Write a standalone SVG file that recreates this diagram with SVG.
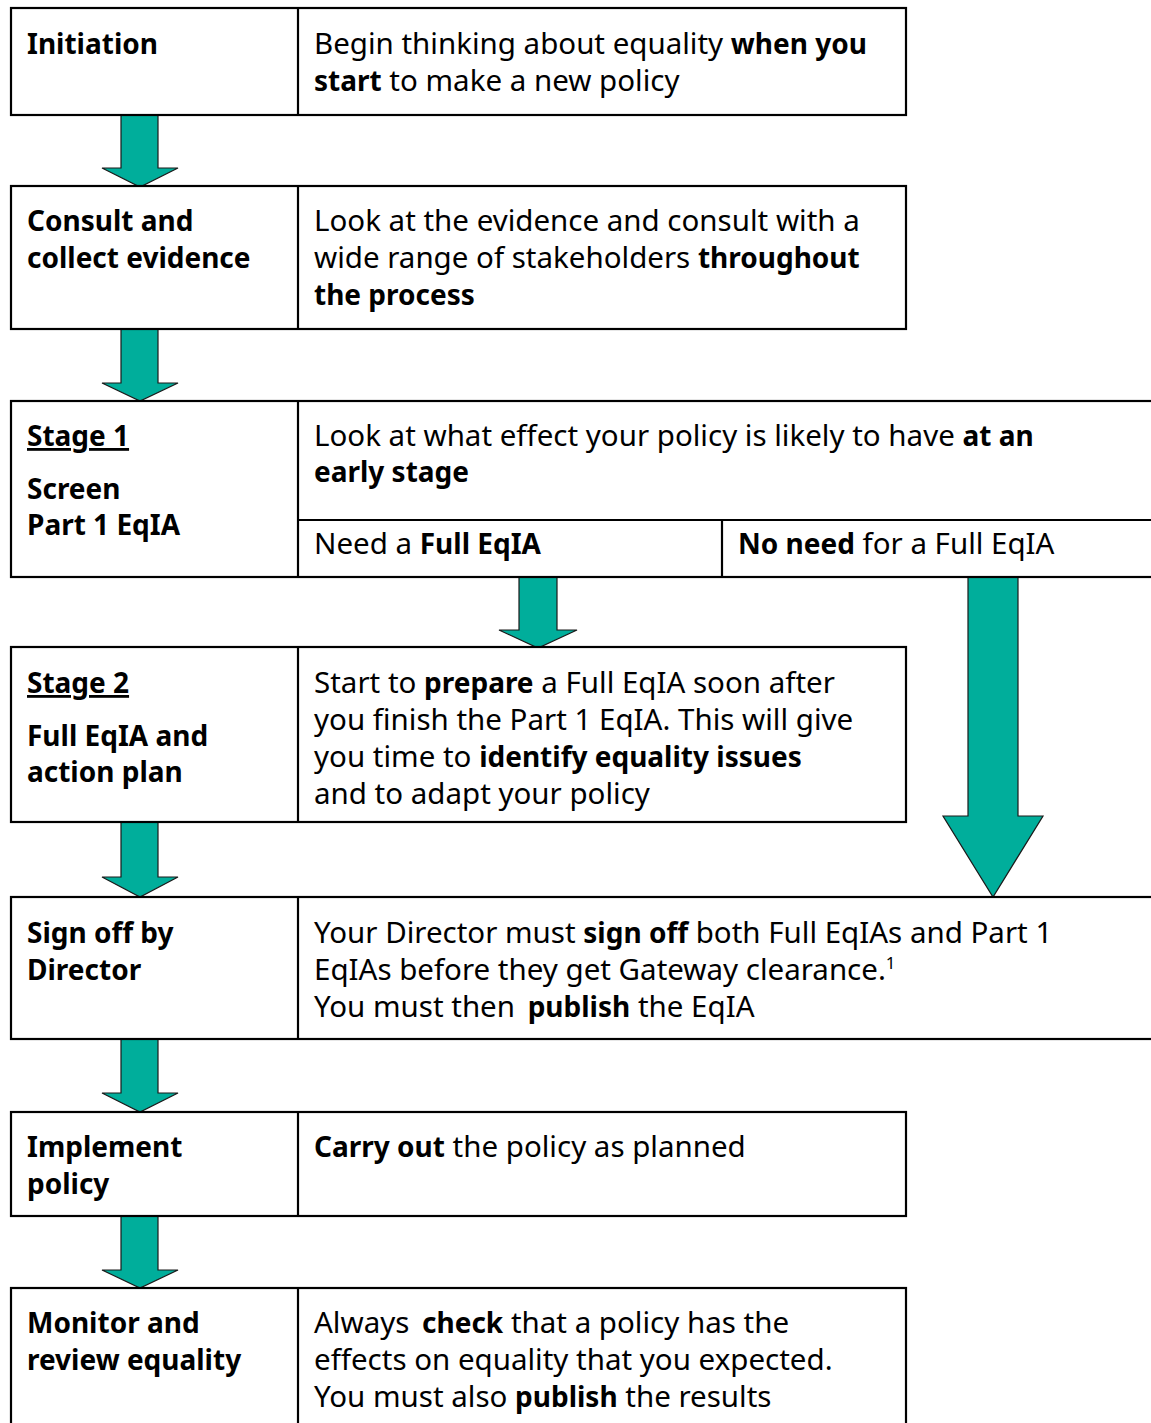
<svg xmlns="http://www.w3.org/2000/svg" width="1151" height="1423" viewBox="0 0 1151 1423">
<style>
text{font-family:"Noto Sans","Open Sans","DejaVu Sans",sans-serif;font-size:29.5px;fill:#000}
.b{font-weight:700;font-size:28px}
.cell{fill:#fff;stroke:#000;stroke-width:2.2}
.ln{stroke:#000;stroke-width:2.2;fill:none}
.arr{fill:#00AE9B;stroke:#1a1a1a;stroke-width:1.2;stroke-linejoin:miter}
</style>
<rect width="1151" height="1423" fill="#fff"/>
<g id="connectors">
<path class="arr" d="M121,115 H158 V168 H178 L140,187 L102,168 H121 Z"/>
<path class="arr" d="M121,329 H158 V383 H178 L140,401 L102,383 H121 Z"/>
<path class="arr" d="M519,577 H557 V630 H577 L538,648 L499,630 H519 Z"/>
<path class="arr" d="M968,577 H1018 V816 H1043 L993,897 L943,816 H968 Z"/>
<path class="arr" d="M121,822 H158 V877 H178 L140,897 L102,877 H121 Z"/>
<path class="arr" d="M121,1039 H158 V1093 H178 L140,1112 L102,1093 H121 Z"/>
<path class="arr" d="M121,1216 H158 V1270 H178 L140,1288 L102,1270 H121 Z"/>
</g>
<g id="initiation">
<rect class="cell" x="11" y="8" width="895" height="107"/>
<line class="ln" x1="298" y1="8" x2="298" y2="115"/>
<text class="b" x="27" y="54">Initiation</text>
<text x="314" y="54">Begin thinking about equality <tspan class="b">when you</tspan></text>
<text x="314" y="91"><tspan class="b">start</tspan> to make a new policy</text>
</g>
<g id="consult">
<rect class="cell" x="11" y="186" width="895" height="143"/>
<line class="ln" x1="298" y1="186" x2="298" y2="329"/>
<text class="b" x="27" y="231">Consult and</text>
<text class="b" x="27" y="268">collect evidence</text>
<text x="314" y="231">Look at the evidence and consult with a</text>
<text x="314" y="268">wide range of stakeholders <tspan class="b">throughout</tspan></text>
<text class="b" x="314" y="305">the process</text>
</g>
<g id="stage1">
<rect class="cell" x="11" y="401" width="1145" height="176"/>
<line class="ln" x1="298" y1="401" x2="298" y2="577"/>
<line class="ln" x1="298" y1="520" x2="1156" y2="520"/>
<line class="ln" x1="722" y1="520" x2="722" y2="577"/>
<text class="b" x="27" y="446" text-decoration="underline">Stage 1</text>
<text class="b" x="27" y="499">Screen</text>
<text class="b" x="27" y="535">Part 1 EqIA</text>
<text x="314" y="446">Look at what effect your policy is likely to have <tspan class="b">at an</tspan></text>
<text class="b" x="314" y="482">early stage</text>
<text x="314" y="554">Need a <tspan class="b">Full EqIA</tspan></text>
<text x="738" y="554"><tspan class="b">No need</tspan> for a Full EqIA</text>
</g>
<g id="stage2">
<rect class="cell" x="11" y="647" width="895" height="175"/>
<line class="ln" x1="298" y1="647" x2="298" y2="822"/>
<text class="b" x="27" y="693" text-decoration="underline">Stage 2</text>
<text class="b" x="27" y="746">Full EqIA and</text>
<text class="b" x="27" y="782">action plan</text>
<text x="314" y="693">Start to <tspan class="b">prepare</tspan> a Full EqIA soon after</text>
<text x="314" y="730">you finish the Part 1 EqIA. This will give</text>
<text x="314" y="767">you time to <tspan class="b">identify equality issues</tspan></text>
<text x="314" y="804">and to adapt your policy</text>
</g>
<g id="signoff">
<rect class="cell" x="11" y="897" width="1145" height="142"/>
<line class="ln" x1="298" y1="897" x2="298" y2="1039"/>
<text class="b" x="27" y="943">Sign off by</text>
<text class="b" x="27" y="980">Director</text>
<text x="314" y="943">Your Director must <tspan class="b">sign off</tspan> both Full EqIAs and Part 1</text>
<text x="314" y="980">EqIAs before they get Gateway clearance.<tspan font-size="17" dy="-11">1</tspan></text>
<text x="314" y="1017">You must then <tspan class="b" dx="5">publish</tspan> the EqIA</text>
</g>
<g id="implement">
<rect class="cell" x="11" y="1112" width="895" height="104"/>
<line class="ln" x1="298" y1="1112" x2="298" y2="1216"/>
<text class="b" x="27" y="1157">Implement</text>
<text class="b" x="27" y="1194">policy</text>
<text x="314" y="1157"><tspan class="b">Carry out</tspan> the policy as planned</text>
</g>
<g id="monitor">
<rect class="cell" x="11" y="1288" width="895" height="150"/>
<line class="ln" x1="298" y1="1288" x2="298" y2="1438"/>
<text class="b" x="27" y="1333">Monitor and</text>
<text class="b" x="27" y="1370">review equality</text>
<text x="314" y="1333">Always <tspan class="b" dx="5">check</tspan> that a policy has the</text>
<text x="314" y="1370">effects on equality that you expected.</text>
<text x="314" y="1407">You must also <tspan class="b">publish</tspan> the results</text>
</g>
</svg>
